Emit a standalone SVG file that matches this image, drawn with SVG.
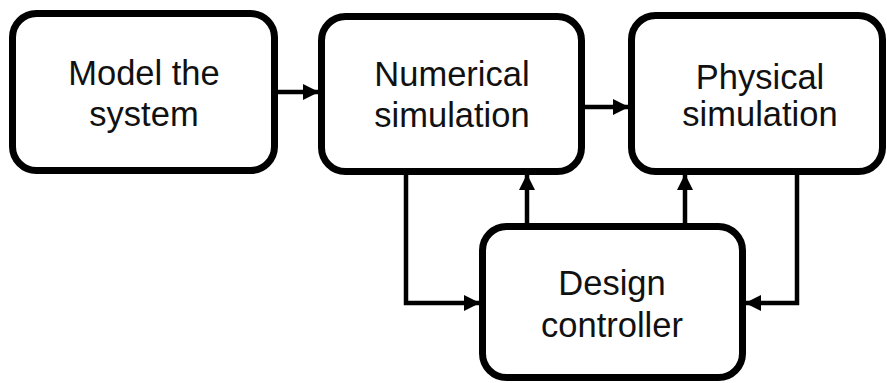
<svg xmlns="http://www.w3.org/2000/svg" width="887" height="383" viewBox="0 0 887 383">
<defs>
<style>
.box{fill:#fff;stroke:#000;stroke-width:7}
.lbl{font-family:"Liberation Sans",Arial,sans-serif;font-size:34.5px;fill:#111;text-anchor:middle}
.con{fill:none;stroke:#000;stroke-width:4.5}
</style>
<marker id="ah" markerUnits="userSpaceOnUse" markerWidth="16" markerHeight="18" refX="15" refY="8" orient="auto" viewBox="0 0 16 16">
<path d="M0,0 L16,8 L0,16 Z" fill="#000"/>
</marker>
</defs>
<rect width="887" height="383" fill="#fff"/>
<g id="connectors">
<path class="con" d="M278,92 H318" marker-end="url(#ah)"/>
<path class="con" d="M585,107 H628" marker-end="url(#ah)"/>
<path class="con" d="M406,175 V303 H479" marker-end="url(#ah)"/>
<path class="con" d="M527,223 V175" marker-end="url(#ah)"/>
<path class="con" d="M685,223 V175" marker-end="url(#ah)"/>
<path class="con" d="M797,175 V303 H746" marker-end="url(#ah)"/>
</g>
<g id="model">
<rect class="box" x="12.5" y="13.5" width="262" height="157" rx="24"/>
<text class="lbl" x="144" y="85">Model the</text>
<text class="lbl" x="144" y="126">system</text>
</g>
<g id="numerical">
<rect class="box" x="321.5" y="16.5" width="260" height="155" rx="24"/>
<text class="lbl" x="452" y="86">Numerical</text>
<text class="lbl" x="452" y="127">simulation</text>
</g>
<g id="physical">
<rect class="box" x="631.5" y="15.5" width="251" height="156" rx="24"/>
<text class="lbl" x="760" y="89">Physical</text>
<text class="lbl" x="760" y="126">simulation</text>
</g>
<g id="controller">
<rect class="box" x="482.5" y="226.5" width="260" height="151" rx="24"/>
<text class="lbl" x="612" y="295">Design</text>
<text class="lbl" x="612" y="337">controller</text>
</g>
</svg>
